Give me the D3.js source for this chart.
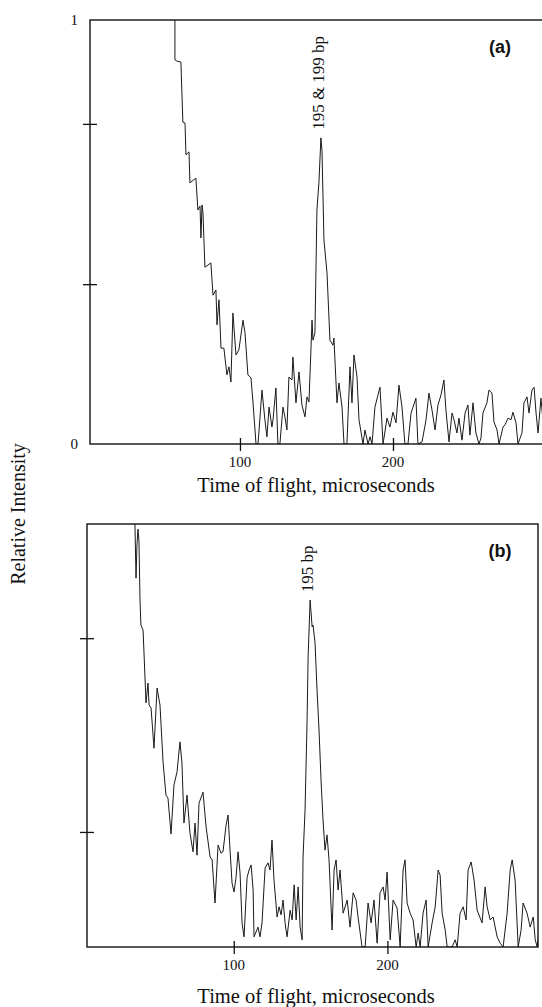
<!DOCTYPE html>
<html>
<head>
<meta charset="utf-8">
<script src="https://cdn.jsdelivr.net/npm/d3@7"></script>
<style>
  body { margin: 0; background: #fff; }
  svg { display: block; }
  .frame { fill: none; stroke: #111; stroke-width: 1.4px; }
  .trace { fill: none; stroke: #1a1a1a; stroke-width: 1px; stroke-linejoin: round; }
  .axis line { stroke: #111; stroke-width: 1.3px; }
  .axis path { display: none; }
  .lbl { font-family: "Liberation Serif", "Times New Roman", serif; fill: #111; }
  .tag { font-family: "Liberation Sans", Arial, sans-serif; font-weight: bold; font-size: 18px; fill: #111; }
</style>
</head>
<body>
<svg id="chart" width="542" height="1007"></svg>
<script>
// panel (a) - time of flight (microseconds) and relative intensity
let timeA = [56.9, 57.5, 57.5, 58.8, 61.4, 62.7, 64.1, 64.7, 66.7, 67.3,
  71.2, 72.5, 73.9, 74.5, 75.2, 75.8, 77.1, 81.0, 82.4, 84.3,
  85.0, 86.3, 87.6, 89.5, 91.5, 92.8, 94.1, 95.4, 97.4, 99.3,
  102.0, 103.3, 105.2, 107.2, 108.5, 110.5, 111.8, 114.4, 116.3, 117.6,
  119.0, 120.9, 121.6, 123.5, 124.8, 126.1, 128.1, 129.4, 130.7, 132.0,
  134.0, 134.6, 136.6, 138.6, 140.5, 142.5, 143.8, 145.1, 147.1, 147.7,
  149.0, 150.3, 151.6, 152.9, 153.6, 154.9, 156.9, 158.8, 160.8, 161.4,
  163.4, 164.7, 166.7, 168.0, 169.9, 171.9, 173.2, 174.5, 176.5, 177.8,
  180.4, 181.7, 183.7, 185.0, 186.3, 188.2, 191.5, 193.5, 196.1, 198.0,
  200.0, 202.0, 203.9, 205.9, 207.8, 209.8, 211.8, 213.1, 215.0, 216.3,
  219.0, 221.6, 223.5, 225.5, 227.5, 229.4, 231.4, 233.3, 234.6, 236.6,
  238.6, 239.9, 241.8, 243.1, 245.1, 247.1, 249.0, 250.3, 252.3, 254.2,
  256.2, 257.5, 258.8, 261.4, 262.7, 264.7, 266.0, 268.0, 269.3, 271.9,
  273.2, 275.2, 277.1, 278.4, 280.4, 281.7, 284.3, 285.6, 287.6, 288.9,
  290.8, 292.2, 293.5, 294.8, 296.7, 298.0];
let intA = [1.05, 1.000, 0.906, 0.903, 0.901, 0.759, 0.757, 0.682, 0.689, 0.616,
  0.627, 0.552, 0.561, 0.486, 0.564, 0.547, 0.417, 0.427, 0.351, 0.363,
  0.281, 0.340, 0.226, 0.226, 0.163, 0.182, 0.146, 0.309, 0.210, 0.222,
  0.292, 0.262, 0.163, 0.156, 0.099, 0, 0, 0.127, 0.057, 0.017,
  0.087, 0.040, 0.057, 0.132, 0, 0, 0.087, 0.064, 0.033, 0.158,
  0.151, 0.205, 0.097, 0.170, 0.092, 0.064, 0.111, 0.099, 0.292, 0.245,
  0.262, 0.552, 0.616, 0.722, 0.693, 0.481, 0.403, 0.245, 0.233, 0.250,
  0.097, 0.144, 0.087, 0, 0, 0.182, 0.097, 0.210, 0.158, 0.057,
  0, 0.033, 0, 0.017, 0, 0.087, 0.134, 0, 0.061, 0.040,
  0.075, 0.050, 0.139, 0.087, 0, 0, 0.073, 0.087, 0.108, 0,
  0.005, 0.057, 0.120, 0.080, 0.033, 0.092, 0.116, 0.151, 0.080, 0.005,
  0.073, 0.057, 0.026, 0.061, 0.009, 0.073, 0.092, 0.021, 0.097, 0.026,
  0, 0.014, 0.073, 0.097, 0.127, 0.120, 0.052, 0.033, 0, 0.040,
  0.045, 0.061, 0.057, 0.075, 0.050, 0, 0.026, 0.097, 0.111, 0.073,
  0.127, 0.134, 0.073, 0.026, 0.108, 0.057];

// panel (b)
let timeB = [35.1, 35.7, 36.4, 37.0, 37.7, 38.3, 39.0, 39.6, 41.0, 42.9,
  44.2, 44.9, 46.2, 48.1, 50.1, 52.0, 54.0, 55.9, 57.2, 59.2,
  61.1, 63.1, 65.0, 66.3, 67.6, 69.6, 71.5, 73.5, 74.8, 76.1,
  77.4, 80.0, 82.0, 84.6, 85.9, 87.8, 89.8, 91.7, 93.0, 95.0,
  96.3, 97.6, 98.9, 100.2, 101.5, 102.8, 104.1, 105.4, 106.7, 108.7,
  110.0, 111.3, 112.6, 113.2, 115.8, 117.1, 118.4, 120.4, 122.3, 123.6,
  124.9, 126.2, 128.2, 129.5, 130.8, 132.1, 133.4, 134.7, 136.7, 138.0,
  139.3, 140.6, 141.9, 143.2, 144.5, 145.1, 146.4, 147.7, 148.4, 149.7,
  151.0, 151.6, 152.9, 154.2, 155.5, 156.8, 158.1, 159.4, 160.7, 162.0,
  164.0, 165.3, 166.6, 167.9, 169.2, 171.2, 173.8, 175.7, 177.7, 179.6,
  180.9, 183.5, 185.5, 187.4, 189.4, 191.3, 193.3, 195.2, 197.2, 198.5,
  199.8, 201.8, 203.7, 206.3, 208.3, 210.2, 211.5, 212.8, 214.8, 216.7,
  218.7, 220.0, 221.3, 223.2, 225.2, 226.5, 229.1, 231.1, 233.0, 234.3,
  235.6, 237.6, 238.9, 242.1, 244.1, 245.4, 247.3, 249.3, 251.2, 252.5,
  254.5, 256.4, 258.4, 261.6, 263.6, 264.9, 266.9, 268.8, 271.4, 273.4,
  275.3, 277.9, 279.9, 281.2, 283.1, 285.1, 287.0, 288.3, 290.9, 292.9,
  294.9, 296.2, 297.5, 298.8];
let intB = [1.057, 1.000, 0.872, 0.950, 0.988, 0.962, 0.820, 0.761, 0.749, 0.577,
  0.624, 0.572, 0.565, 0.470, 0.612, 0.572, 0.437, 0.359, 0.352, 0.267,
  0.383, 0.414, 0.485, 0.435, 0.293, 0.359, 0.270, 0.225, 0.293, 0.217,
  0.340, 0.366, 0.284, 0.213, 0.206, 0.104, 0.241, 0.222, 0.225, 0.288,
  0.312, 0.229, 0.151, 0.130, 0.165, 0.225, 0.175, 0.057, 0.024, 0.165,
  0.182, 0.194, 0.135, 0.024, 0.047, 0.024, 0.057, 0.187, 0.199, 0.182,
  0.253, 0.158, 0.071, 0.095, 0.076, 0.111, 0.057, 0.024, 0.087, 0.064,
  0.147, 0.064, 0.142, 0.047, 0.017, 0.213, 0.324, 0.530, 0.686, 0.820,
  0.757, 0.761, 0.719, 0.608, 0.513, 0.395, 0.300, 0.229, 0.265, 0.206,
  0.040, 0.182, 0.206, 0.135, 0.182, 0.080, 0.111, 0.047, 0.128, 0.111,
  0.071, 0, 0, 0.104, 0.057, 0.111, 0.009, 0.128, 0.142, 0.111,
  0.177, 0.017, 0.111, 0.092, 0, 0.182, 0.206, 0.104, 0.080, 0.064,
  0, 0.033, 0, 0.080, 0.111, 0, 0.057, 0.095, 0.182, 0.170,
  0.080, 0.040, 0, 0, 0.017, 0, 0.080, 0.095, 0.064, 0.182,
  0.201, 0.158, 0.087, 0.057, 0.142, 0.095, 0.064, 0.071, 0.024, 0.009,
  0, 0.080, 0.182, 0.206, 0.158, 0, 0.040, 0.104, 0.080, 0.047,
  0.071, 0.017, 0, 0.040];

let xTicks = [100, 200];
let yTicksA = [0.377, 0.755];
let yTicksB = [0.272, 0.730];
let yLabelsA = [0, 1];
let peakLabels = ["195 & 199 bp", "195 bp"];
let panelTags = ["(a)", "(b)"];
let xTitle = "Time of flight, microseconds";
let yTitle = "Relative Intensity";

let svg = d3.select("#chart");

let panels = [
  { t: timeA, v: intA, yTicks: yTicksA, yLabels: yLabelsA,
    left: 90, right: 546, top: 20, bottom: 444, xmin: 2, xmax: 300, titleY: 492 },
  { t: timeB, v: intB, yTicks: yTicksB, yLabels: [],
    left: 87, right: 538, top: 524, bottom: 947, xmin: 4.5, xmax: 298, titleY: 1003 }
];

panels.forEach(function (p, k) {
  let x = d3.scaleLinear().domain([p.xmin, p.xmax]).range([p.left, p.right]);
  let y = d3.scaleLinear().domain([0, 1]).range([p.bottom, p.top]);

  let data = p.t.map(function (d, i) { return { t: d, v: p.v[i] }; });

  svg.append("clipPath")
    .attr("id", "clip" + k)
    .append("rect")
    .attr("x", p.left).attr("y", p.top)
    .attr("width", p.right - p.left).attr("height", p.bottom - p.top);

  let line = d3.line()
    .x(function (d) { return x(d.t); })
    .y(function (d) { return y(d.v); });

  svg.append("path")
    .datum(data)
    .attr("class", "trace")
    .attr("clip-path", "url(#clip" + k + ")")
    .attr("d", line);

  // box round the plot
  svg.append("rect")
    .attr("class", "frame")
    .attr("x", p.left).attr("y", p.top)
    .attr("width", p.right - p.left).attr("height", p.bottom - p.top);

  // x ticks cross the axis line
  let gx = svg.append("g")
    .attr("class", "axis")
    .attr("transform", "translate(0," + p.bottom + ")")
    .call(d3.axisBottom(x).tickValues(xTicks).tickSize(7).tickFormat(""));
  gx.selectAll(".tick line").attr("y1", -6);

  svg.selectAll(null)
    .data(xTicks)
    .enter().append("text")
    .attr("class", "lbl")
    .attr("x", function (d) { return x(d); })
    .attr("y", p.bottom + 23)
    .attr("text-anchor", "middle")
    .style("font-size", "15px")
    .text(function (d) { return d; });

  let gy = svg.append("g")
    .attr("class", "axis")
    .attr("transform", "translate(" + p.left + ",0)")
    .call(d3.axisLeft(y).tickValues(p.yTicks).tickSize(7).tickFormat(""));
  gy.selectAll(".tick line").attr("x1", 7);

  svg.selectAll(null)
    .data(p.yLabels)
    .enter().append("text")
    .attr("class", "lbl")
    .attr("x", p.left - 12)
    .attr("y", function (d) { return y(d) + 5; })
    .attr("text-anchor", "end")
    .style("font-size", "15px")
    .text(function (d) { return d; });

  svg.append("text")
    .attr("class", "lbl")
    .attr("x", 316)
    .attr("y", p.titleY)
    .attr("text-anchor", "middle")
    .style("font-size", "20.5px")
    .text(xTitle);

  // peak annotation, vertical text above the biggest late peak
  let late = data.filter(function (d) { return d.t > 130; });
  let pk = late[d3.maxIndex(late, function (d) { return d.v; })];
  svg.append("text")
    .attr("class", "lbl")
    .attr("transform", "translate(" + (x(pk.t) + 3) + "," + (y(pk.v) - 8) + ") rotate(-90)")
    .style("font-size", "17px")
    .text(peakLabels[k]);

  svg.append("text")
    .attr("class", "tag")
    .attr("x", 500)
    .attr("y", p.top + 33)
    .attr("text-anchor", "middle")
    .text(panelTags[k]);
});

svg.append("text")
  .attr("class", "lbl")
  .attr("transform", "translate(25,514) rotate(-90)")
  .attr("text-anchor", "middle")
  .style("font-size", "20px")
  .text(yTitle);
</script>
</body>
</html>
